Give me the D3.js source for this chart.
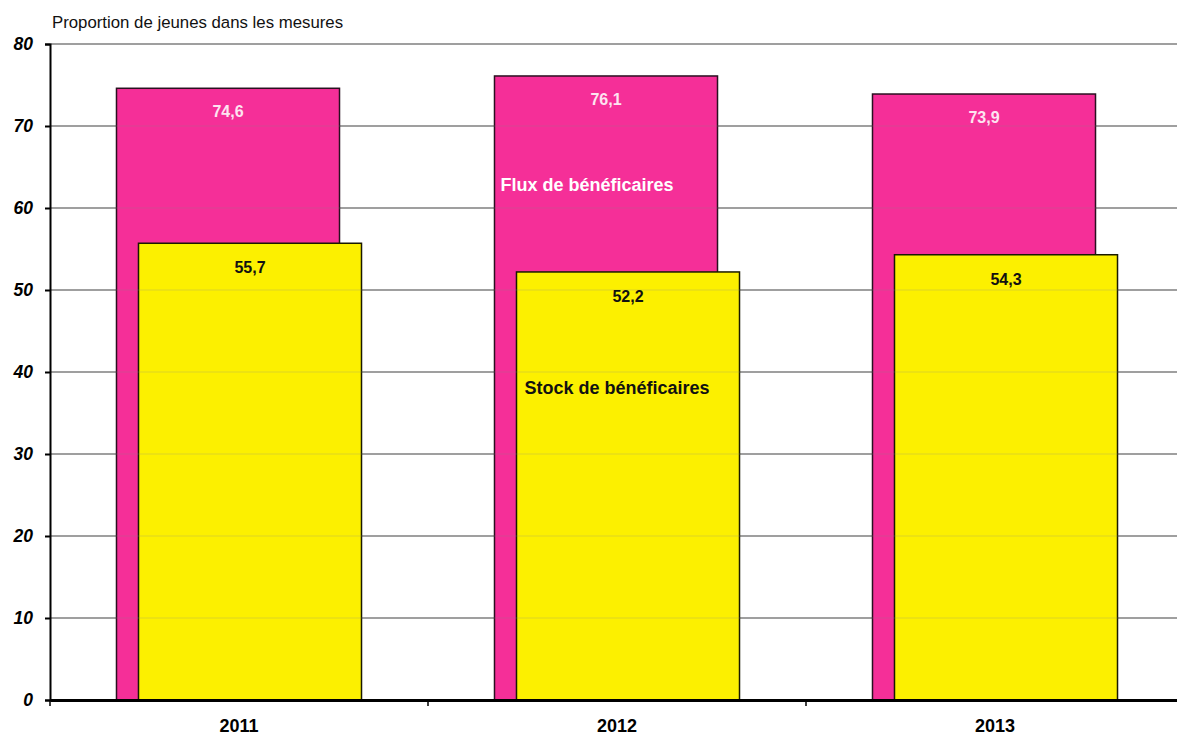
<!DOCTYPE html>
<html>
<head>
<meta charset="utf-8">
<script src="https://cdn.jsdelivr.net/npm/d3@7"></script>
<style>
  body { margin: 0; background: #fff; }
  svg { display: block; font-family: "Liberation Sans", Arial, sans-serif; }
</style>
</head>
<body>
<div id="chart"></div>
<script>
// data
var years = ["2011", "2012", "2013"]
var flux = [74.6, 76.1, 73.9]     // Flux de bénéficaires
var stock = [55.7, 52.2, 54.3]    // Stock de bénéficaires
var yTicks = [0, 10, 20, 30, 40, 50, 60, 70, 80]
var subtitle = "Proportion de jeunes dans les mesures"
var fluxLabel = "Flux de bénéficaires"
var stockLabel = "Stock de bénéficaires"

var fmt = function(v) { return d3.format(".1f")(v).replace(".", ",") }

var width = 1177, height = 738
var margin = {top: 44, right: -7, bottom: 38, left: 50}

var svg = d3.select("#chart").append("svg")
  .attr("width", width)
  .attr("height", height)

var x = d3.scaleBand()
  .domain(years)
  .range([margin.left, width - margin.right])

var y = d3.scaleLinear()
  .domain([0, 80])
  .range([height - margin.bottom, margin.top])

var barW = x.bandwidth() * 0.59
var shift = 11

// subtitle
svg.append("text")
  .attr("x", 52)
  .attr("y", 28)
  .attr("font-size", 16.8)
  .attr("fill", "#111")
  .text(subtitle)

// gridlines
var grid = svg.append("g")
grid.selectAll("line")
  .data(yTicks.filter(d => d > 0))
  .join("line")
    .attr("x1", margin.left)
    .attr("x2", width)
    .attr("y1", d => y(d))
    .attr("y2", d => y(d))
    .attr("stroke", "#a3a3a3")
    .attr("stroke-width", 2)

// bars
var bars = svg.append("g")

bars.selectAll("rect.flux")
  .data(flux)
  .join("rect")
    .attr("class", "flux")
    .attr("x", (d, i) => x(years[i]) + x.bandwidth() / 2 - shift - barW / 2)
    .attr("y", d => y(d))
    .attr("width", barW)
    .attr("height", d => y(0) - y(d))
    .attr("fill", "#f52f98")
    .attr("stroke", "#2a1020")
    .attr("stroke-width", 1.5)

bars.selectAll("rect.stock")
  .data(stock)
  .join("rect")
    .attr("class", "stock")
    .attr("x", (d, i) => x(years[i]) + x.bandwidth() / 2 + shift - barW / 2)
    .attr("y", d => y(d))
    .attr("width", barW)
    .attr("height", d => y(0) - y(d))
    .attr("fill", "#fcf000")
    .attr("stroke", "#1a1a00")
    .attr("stroke-width", 1.5)

// faint gridlines seen through the bars
svg.append("g")
  .selectAll("line")
  .data(yTicks.filter(d => d > 0))
  .join("line")
    .attr("x1", margin.left)
    .attr("x2", width)
    .attr("y1", d => y(d))
    .attr("y2", d => y(d))
    .attr("stroke", "#888")
    .attr("stroke-opacity", 0.18)
    .attr("stroke-width", 1.5)

// value labels
svg.append("g")
  .selectAll("text")
  .data(flux)
  .join("text")
    .attr("x", (d, i) => x(years[i]) + x.bandwidth() / 2 - shift)
    .attr("y", d => y(d) + 29)
    .attr("text-anchor", "middle")
    .attr("font-size", 16)
    .attr("font-weight", "bold")
    .attr("fill", "#fde4f0")
    .text(d => fmt(d))

svg.append("g")
  .selectAll("text")
  .data(stock)
  .join("text")
    .attr("x", (d, i) => x(years[i]) + x.bandwidth() / 2 + shift)
    .attr("y", d => y(d) + 30)
    .attr("text-anchor", "middle")
    .attr("font-size", 16)
    .attr("font-weight", "bold")
    .attr("fill", "#111")
    .text(d => fmt(d))

// series labels inside the 2012 bars
svg.append("text")
  .attr("x", x("2012") + x.bandwidth() / 2 - shift - barW / 2 + 6)
  .attr("y", y(62.1))
  .attr("font-size", 18)
  .attr("font-weight", "bold")
  .attr("fill", "#fff")
  .text(fluxLabel)

svg.append("text")
  .attr("x", x("2012") + x.bandwidth() / 2 + shift - barW / 2 + 8)
  .attr("y", y(37.3))
  .attr("font-size", 18)
  .attr("font-weight", "bold")
  .attr("fill", "#111")
  .text(stockLabel)

// y axis
var yAxis = svg.append("g")
  .attr("transform", `translate(${margin.left},0)`)
  .call(d3.axisLeft(y).tickValues(yTicks).tickSize(5).tickPadding(12))
yAxis.select(".domain").attr("stroke", "#000").attr("stroke-width", 2)
yAxis.selectAll(".tick line").attr("stroke", "#000").attr("stroke-width", 2)
yAxis.selectAll(".tick text")
  .attr("font-size", 17.5)
  .attr("font-weight", "bold")
  .attr("font-style", "italic")
  .attr("font-family", "Liberation Sans, Arial, sans-serif")
  .attr("fill", "#000")

// x axis
var xAxis = svg.append("g")
  .attr("transform", `translate(0,${y(0)})`)
  .call(d3.axisBottom(x).tickSize(0).tickPadding(19))
xAxis.select(".domain").attr("stroke", "#000").attr("stroke-width", 3)
xAxis.selectAll(".tick text")
  .attr("font-size", 18)
  .attr("font-weight", "bold")
  .attr("font-family", "Liberation Sans, Arial, sans-serif")
  .attr("fill", "#000")

// category separator ticks
svg.append("g")
  .selectAll("line")
  .data(years)
  .join("line")
    .attr("x1", d => x(d))
    .attr("x2", d => x(d))
    .attr("y1", y(0))
    .attr("y2", y(0) + 6)
    .attr("stroke", "#000")
    .attr("stroke-width", 1.5)
</script>
</body>
</html>
